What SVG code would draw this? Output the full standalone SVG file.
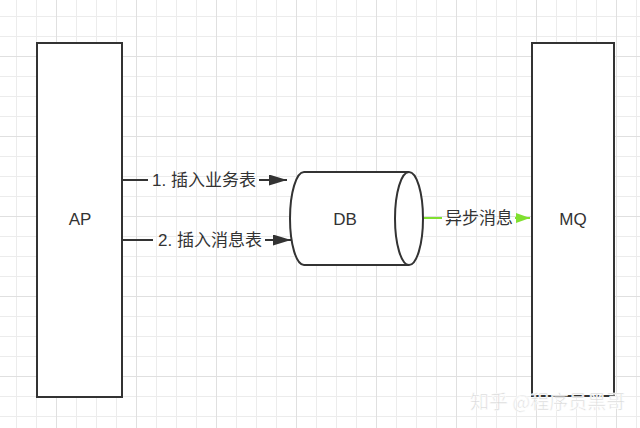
<svg xmlns="http://www.w3.org/2000/svg" width="640" height="428" viewBox="0 0 640 428">
<defs>
<pattern id="minor" x="16" y="16" width="20" height="20" patternUnits="userSpaceOnUse">
<path d="M0.5 0V20M0 0.5H20" stroke="#ececec" stroke-width="1" fill="none"/>
</pattern>
<pattern id="major" x="56" y="56" width="80" height="80" patternUnits="userSpaceOnUse">
<path d="M0.5 0V80M0 0.5H80" stroke="#e0e0e0" stroke-width="1" fill="none"/>
</pattern>
<marker id="ah" viewBox="0 0 10 10" refX="10" refY="5" markerWidth="18" markerHeight="11" markerUnits="userSpaceOnUse" orient="auto" preserveAspectRatio="none">
<path d="M0 0L10 5L0 10Z" fill="#333"/>
</marker>
<marker id="ahg" viewBox="0 0 10 10" refX="10" refY="5" markerWidth="14" markerHeight="10" markerUnits="userSpaceOnUse" orient="auto" preserveAspectRatio="none">
<path d="M0 0L10 5L0 10Z" fill="#80e030"/>
</marker>
</defs>
<style>
.box{fill:#fff;stroke:#333;stroke-width:2}
.lbl{font-family:"Liberation Sans","Noto Sans CJK SC",sans-serif;font-size:17px;fill:#333}
.edge{stroke:#333;stroke-width:2;fill:none}
.gedge{stroke:#80e030;stroke-width:2;fill:none}
.elbl{font-family:"Liberation Sans","Noto Sans CJK SC",sans-serif;font-size:17px;fill:#333}
.wm{font-family:"Noto Sans CJK SC",sans-serif;font-size:19px;fill:#d8d8d8;stroke:#fff;stroke-width:0.6}
</style>
<rect width="640" height="428" fill="#fff"/>
<rect width="640" height="428" fill="url(#minor)"/>
<rect width="640" height="428" fill="url(#major)"/>
<g id="connectors">
<line class="edge" x1="122" y1="180" x2="148" y2="180"/>
<line class="edge" x1="259" y1="180" x2="287" y2="180" marker-end="url(#ah)"/>
<text class="elbl" x="204" y="186" text-anchor="middle">1. 插入业务表</text>
<line class="edge" x1="122" y1="240" x2="153" y2="240"/>
<line class="edge" x1="265" y1="240" x2="291" y2="240" marker-end="url(#ah)"/>
<text class="elbl" x="210" y="246" text-anchor="middle">2. 插入消息表</text>
<line class="gedge" x1="423" y1="218" x2="442" y2="218"/>
<line class="gedge" x1="515" y1="218" x2="530" y2="218" marker-end="url(#ahg)"/>
<text class="elbl" x="479" y="224" text-anchor="middle">异步消息</text>
</g>
<g id="AP">
<rect class="box" x="37" y="43" width="85" height="354"/>
<text class="lbl" x="80" y="225" text-anchor="middle">AP</text>
</g>
<g id="DB">
<path class="box" d="M409 172H304A14 46.5 0 0 0 304 265H409"/>
<ellipse class="box" cx="409" cy="218.5" rx="14" ry="46.5"/>
<text class="lbl" x="345" y="225" text-anchor="middle">DB</text>
</g>
<g id="MQ">
<rect class="box" x="532" y="43" width="82" height="353"/>
<text class="lbl" x="573" y="225" text-anchor="middle">MQ</text>
</g>
<text class="wm" x="470" y="409">知乎 @程序员黑哥</text>
</svg>
